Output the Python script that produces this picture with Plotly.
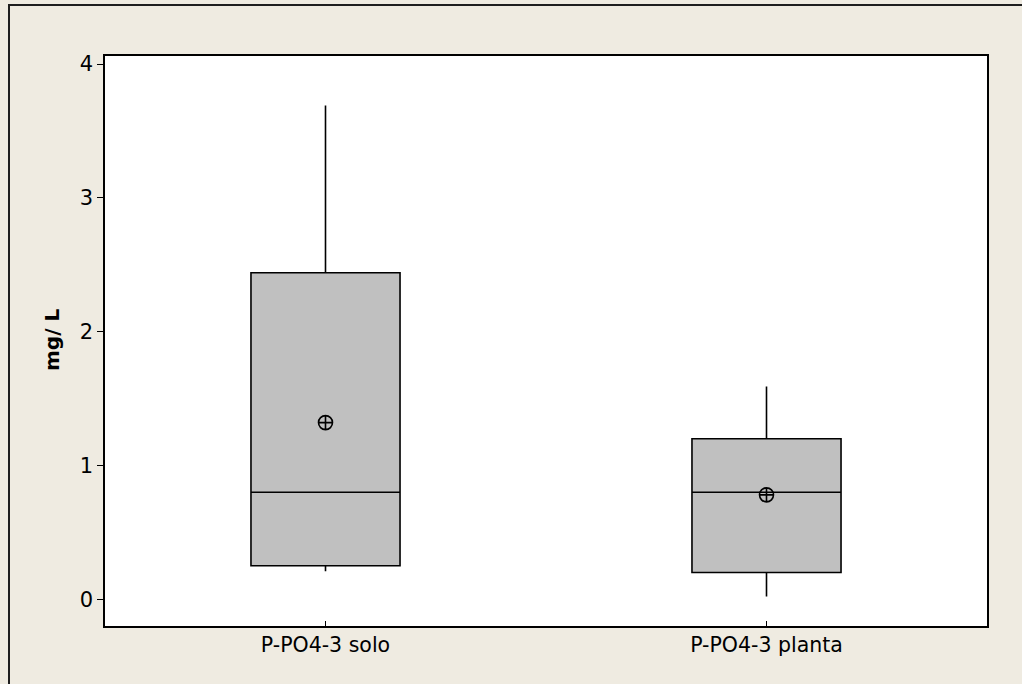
import plotly.graph_objects as go

categories = ["P-PO4-3 solo", "P-PO4-3 planta"]
q1 = [0.25, 0.20]
median = [0.80, 0.80]
q3 = [2.44, 1.20]
lower_whisker = [0.21, 0.02]
upper_whisker = [3.69, 1.59]
means = [1.32, 0.78]
y_ticks = [0, 1, 2, 3, 4]

W, H = 1022, 684
ml, mr, mt, mb = 105, 35, 56, 58
pw, ph = W - ml - mr, H - mt - mb

def px_x(x):
    return (x - ml) / pw

def px_y(y):
    return (H - mb - y) / ph

bg = "rgb(239,235,225)"
font_family = "DejaVu Sans, Verdana, sans-serif"

fig = go.Figure()
fig.add_trace(go.Box(
    x=categories,
    q1=q1, median=median, q3=q3,
    lowerfence=lower_whisker, upperfence=upper_whisker,
    fillcolor="#C0C0C0",
    line=dict(color="black", width=1.6),
    whiskerwidth=0,
    width=0.338,
    boxpoints=False,
    hoverinfo="skip",
    showlegend=False,
))
fig.add_trace(go.Scatter(
    x=categories, y=means, mode="markers",
    marker=dict(symbol="circle-cross-open", size=14, color="black",
                line=dict(width=1.6, color="black")),
    showlegend=False, hoverinfo="skip",
))

frame_col = "rgb(30,30,30)"
shapes = [
    # outer frame: left and top bands (filled, no outline)
    dict(type="rect", xref="paper", yref="paper",
         x0=px_x(8), x1=px_x(10), y0=px_y(4), y1=px_y(H),
         fillcolor=frame_col, line=dict(width=0)),
    dict(type="rect", xref="paper", yref="paper",
         x0=px_x(8), x1=px_x(W), y0=px_y(4), y1=px_y(6),
         fillcolor=frame_col, line=dict(width=0)),
]

fig.update_layout(
    width=W, height=H,
    margin=dict(l=ml, r=mr, t=mt, b=mb, autoexpand=False),
    paper_bgcolor=bg, plot_bgcolor="white",
    font=dict(family=font_family, size=21, color="black"),
    shapes=shapes,
    annotations=[dict(
        text="<b>mg/ L</b>", xref="paper", yref="paper",
        x=px_x(52), y=px_y(340), showarrow=False, textangle=-90,
        font=dict(family=font_family, size=20, color="black"),
        xanchor="center", yanchor="middle",
    )],
)
fig.update_xaxes(
    type="category", range=[-0.5, 1.5],
    showline=True, linecolor="black", linewidth=1.6, mirror=True,
    ticks="inside", ticklen=5, tickwidth=1.2, tickcolor="black",
    showgrid=False, zeroline=False,
    tickfont=dict(size=20.5),
)
fig.update_yaxes(
    range=[-0.2, 4.06],
    tickvals=y_ticks,
    showline=True, linecolor="black", linewidth=1.6, mirror=True,
    ticks="outside", ticklen=6, tickwidth=1.2, tickcolor="black",
    showgrid=False, zeroline=False,
    tickfont=dict(size=21),
)

fig.write_html("out.html", config={"displayModeBar": False})
